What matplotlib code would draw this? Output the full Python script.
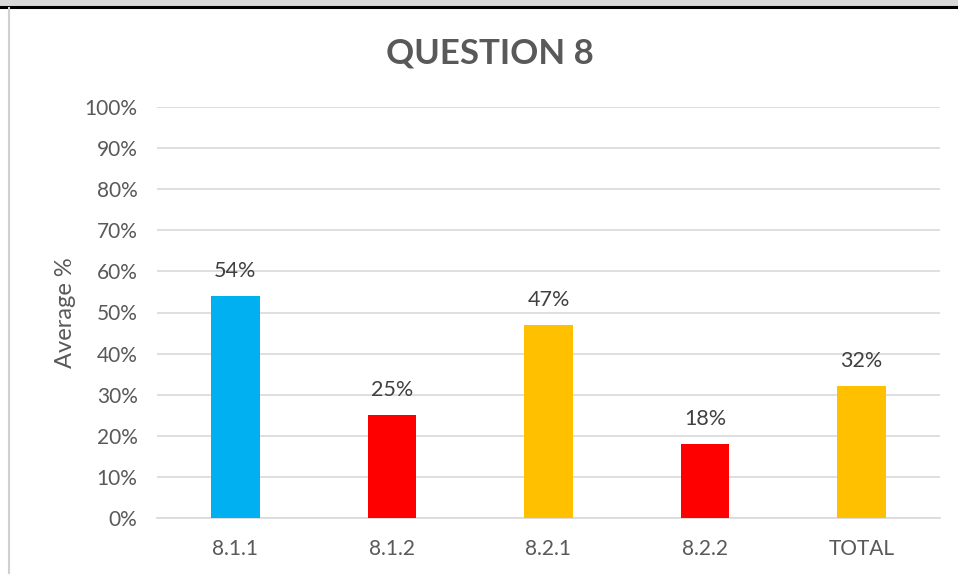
import matplotlib.pyplot as plt
from matplotlib.patches import Rectangle
from matplotlib.lines import Line2D
import numpy as np

categories = ["8.1.1", "8.1.2", "8.2.1", "8.2.2", "TOTAL"]
averages = [54, 25, 47, 18, 32]
bar_colors = ["#00b0f0", "#ff0000", "#ffc000", "#ff0000", "#ffc000"]
y_ticks = list(range(0, 101, 10))

plt.rcParams['font.family'] = ['Lato', 'DejaVu Sans']
text_grey = "#595959"

fig = plt.figure(figsize=(9.58, 5.74), dpi=100)
fig.patch.set_facecolor("white")

# strip of the page above the chart frame
fig.add_artist(Rectangle((0, 1 - 6 / 574), 1, 6 / 574, transform=fig.transFigure,
                         facecolor="#d9d9d9", edgecolor="none"))
fig.add_artist(Line2D([0, 1], [1 - 7 / 574, 1 - 7 / 574], transform=fig.transFigure,
                      color="black", lw=2.2))
fig.add_artist(Line2D([9 / 958, 9 / 958], [0, 1 - 8 / 574], transform=fig.transFigure,
                      color="#d0d0d0", lw=1.5))

ax = fig.add_axes([157 / 958, 1 - 518 / 574, 783 / 958, 411 / 574])
x = np.arange(len(categories))
bars = ax.bar(x, averages, width=0.31, color=bar_colors, zorder=3)
for b, v in zip(bars, averages):
    ax.annotate(f"{v}%", (b.get_x() + b.get_width() / 2, v), xytext=(0, 11),
                textcoords="offset points", ha="center", va="bottom",
                fontsize=15.5, color="#404040")

ax.set_xlim(-0.5, len(categories) - 0.5)
ax.set_ylim(0, 100)
ax.set_yticks(y_ticks)
ax.set_yticklabels([f"{t}%" for t in y_ticks])
ax.set_xticks(x)
ax.set_xticklabels(categories)
ax.tick_params(axis="both", length=0, labelsize=15, labelcolor=text_grey)
ax.tick_params(axis="y", pad=14)
ax.tick_params(axis="x", pad=15)
ax.grid(axis="y", color="#d9d9d9", lw=1.2, zorder=0)
for side in ["top", "right", "left"]:
    ax.spines[side].set_visible(False)
ax.spines["bottom"].set_color("#d9d9d9")
ax.spines["bottom"].set_linewidth(1.2)

ax.set_ylabel("Average %", fontsize=17, color=text_grey, labelpad=6)
fig.text(490 / 958, 1 - 54 / 574, "QUESTION 8", ha="center", va="center",
         fontsize=25, fontweight="bold", color=text_grey)

fig.savefig("out.png", dpi=100)
